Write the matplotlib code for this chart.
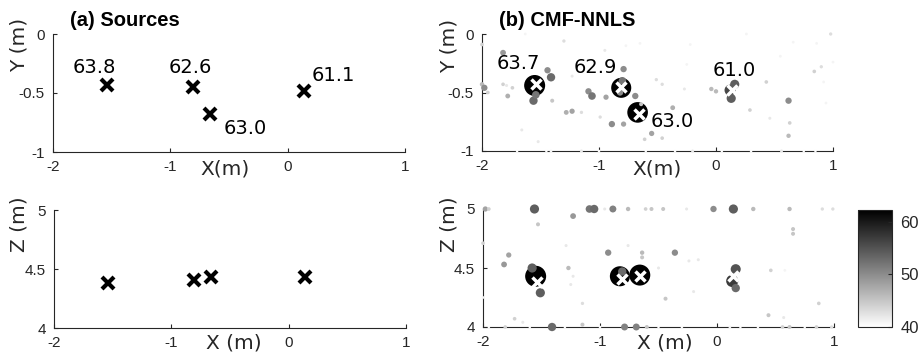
import matplotlib
matplotlib.use("Agg")
import matplotlib.pyplot as plt
import numpy as np

plt.rcParams['axes.unicode_minus'] = False

# ---- data ----
src_x = [-1.54, -0.81, -0.66, 0.14]
src_y = [-0.43, -0.45, -0.68, -0.48]
src_z = [4.38, 4.41, 4.43, 4.43]
true_levels = ["63.8", "62.6", "63.0", "61.1"]
true_lab_x = [-1.65, -0.83, -0.36, 0.39]
true_lab_y = [-0.28, -0.28, -0.80, -0.35]
est_levels = ["63.7", "62.9", "63.0", "61.0"]
est_lab_x = [-1.69, -1.03, -0.37, 0.16]
est_lab_y = [-0.25, -0.29, -0.75, -0.31]

# CMF-NNLS map (X-Y view): x, y, level (dB)
xy_x = [-1.55, -0.81, -0.67, 0.12, 0.16, 0.13,
        -2.0, -1.82, -1.30, -2.0, -1.98, -1.95, -1.82, -1.78, -1.74, -1.56, -1.54,
        -1.44, -1.41, -1.40, -1.66, -1.52, -1.41, -1.28, -1.23, -1.15, -1.15, -1.09,
        -1.06, -1.23, -0.99, -0.94, -0.79, -0.80, -0.82, -0.69, -0.89, -0.79, -0.64,
        -0.55, -0.61, -0.46, -0.95, -0.77, -0.65, -1.63, -0.51, -0.46, -0.37, -0.27,
        -0.20, -0.04, 0.00, 0.29, 0.43, 0.46, 0.62, 0.63, 0.62, 0.55, 0.66, 0.84,
        0.90, 0.86, 0.98, 1.0, 0.94, 0.92, 0.56, -1.79, -0.22, 0.26, -0.25,
        -1.70, -1.45, -1.0, -0.6, -0.35, 0.05, 0.30, 0.75, 0.85]
xy_y = [-0.44, -0.46, -0.67, -0.48, -0.43, -0.55,
        -0.09, -0.16, -0.06, -0.43, -0.46, -0.50, -0.43, -0.53, -0.46, -0.57, -0.52,
        -0.31, -0.37, -0.57, -0.82, -0.92, -1.0, -0.67, -0.66, -0.67, -1.0, -0.49,
        -0.53, -0.36, -0.71, -0.54, -0.30, -0.40, -0.50, -0.53, -0.77, -0.77, -0.60,
        -0.85, -0.90, -0.89, -0.14, -0.10, -0.08, 0.0, -0.39, -0.43, -0.63, -0.47,
        -1.0, -0.47, -0.49, -0.65, -0.41, -0.72, -0.57, -0.76, -0.87, -0.19, -0.07, -0.32,
        -0.28, -0.08, 0.0, -0.24, -0.59, -0.41, -1.0, -0.44, -0.09, 0.0, -0.26,
        -1.0, -1.0, -1.0, -1.0, -1.0, -1.0, -1.0, -1.0, -1.0]
xy_lev = [63.0, 62.5, 62.8, 56, 54, 54,
          44, 49, 43, 46, 50, 44, 44, 47, 44, 53, 52,
          50, 53, 45, 42, 42, 41, 47, 48, 43, 42, 50,
          52, 42, 43, 48, 50, 52, 50, 50, 50, 48, 45,
          48, 44, 44, 42, 41, 41, 41, 43, 43, 47, 42,
          42, 46, 46, 44, 44, 42, 50, 44, 46, 41, 41, 44,
          43, 41, 43, 41, 41, 41, 42, 42, 41, 41, 41,
          40.3, 40.3, 40.3, 40.3, 40.3, 40.3, 40.3, 40.3, 40.3]

# CMF-NNLS map (X-Z view): x, z, level (dB)
xz_x = [-1.55, -0.83, -0.66, -1.58, -1.51, -0.81, 0.16, 0.13, 0.16,
        -1.98, -1.95, -1.56, -1.09, -1.05, -0.96, -0.89, -0.76, -0.61, -0.56, -0.46,
        -0.26, -0.03, 0.14, 0.31, 0.62, 0.90, 0.99, -1.23, -1.53, -2.0, -1.78, -1.82,
        -1.29, -1.27, -1.23, -1.25, -1.15, -1.73, -1.66, -2.0, -1.41, -1.15, -1.81,
        -0.93, -0.64, -0.64, -0.79, -0.69, -0.60, -0.36, -0.24, -0.50, -0.20, -0.44,
        0.46, 0.58, 0.87, 0.44, 0.57, 0.62, 0.56, 0.85, 0.98, 0.11, 0.65, 0.65,
        -0.76, -0.16,
        -1.95, -1.60, -1.30, -1.0, -0.50, -0.30, 0.20, 0.35, 0.75]
xz_z = [4.43, 4.43, 4.44, 4.50, 4.29, 4.47, 4.49, 4.39, 4.33,
        5.0, 5.0, 5.0, 5.0, 5.0, 5.0, 5.0, 5.0, 5.0, 5.0, 5.0,
        5.0, 5.0, 5.0, 5.0, 5.0, 5.0, 5.0, 4.94, 4.87, 4.71, 4.61, 4.53,
        4.69, 4.50, 4.43, 4.36, 4.20, 4.07, 4.04, 4.25, 4.0, 4.02, 4.0,
        4.63, 4.63, 4.59, 4.0, 4.0, 4.0, 4.63, 4.56, 4.50, 4.30, 4.24,
        4.48, 4.48, 4.20, 4.10, 4.08, 4.0, 4.0, 4.0, 4.0, 4.0, 4.83, 4.79,
        4.69, 4.57,
        4.0, 4.0, 4.0, 4.0, 4.0, 4.0, 4.0, 4.0, 4.0]
xz_lev = [63.0, 62.5, 63.0, 54, 54, 53, 55, 57, 53,
          48, 44, 54, 52, 53, 42, 51, 46, 44, 45, 45,
          42, 50, 54, 46, 46, 43, 43, 49, 45, 44, 48, 49,
          42, 46, 42, 42, 43, 44, 42, 41, 53, 45, 44,
          50, 46, 45, 51, 51, 45, 50, 42, 42, 42, 45,
          44, 41, 44, 45, 42, 45, 44, 44, 43, 41, 45, 45,
          42, 42,
          40.3, 40.3, 40.3, 40.3, 40.3, 40.3, 40.3, 40.3, 40.3]

cbar_ticks = [40, 50, 60]
clim = (40, 62.2)

# ---- figure ----
W, H = 921, 352
fig = plt.figure(figsize=(W / 100, H / 100), dpi=100)


def ax_px(l, t, r, b):
    return fig.add_axes([l / W, 1 - b / H, (r - l) / W, (b - t) / H])


tickfont = dict(family='Liberation Sans', size=11)
axcol = '#262626'


def style(ax, ylim, yticks, yticklabels):
    ax.set_xlim(-2, 1)
    ax.set_ylim(*ylim)
    ax.set_xticks([-2, -1, 0, 1])
    ax.set_xticklabels(['-2', '-1', '0', '1'], fontdict=tickfont)
    ax.set_yticks(yticks)
    ax.set_yticklabels(yticklabels, fontdict=tickfont)
    for s in ['top', 'right']:
        ax.spines[s].set_visible(False)
    for s in ['left', 'bottom']:
        ax.spines[s].set_color(axcol)
        ax.spines[s].set_linewidth(0.8)
    ax.tick_params(direction='in', length=3, width=0.8, colors=axcol,
                   labelcolor=axcol)
    ax.tick_params(axis='x', pad=6)
    ax.tick_params(axis='y', pad=6)
    ax.set_facecolor('white')


def sizes(levels):
    d = 21 * 10 ** ((np.asarray(levels) - 63) / 25)  # diameter in px
    return (d * 0.72) ** 2


ax1 = ax_px(53, 34, 405, 152)
ax2 = ax_px(482, 34, 833, 151)
ax3 = ax_px(54, 210, 406, 328)
ax4 = ax_px(483, 209, 834, 327)
cax = ax_px(858, 210, 892, 327)

style(ax1, (-1, 0), [-1, -0.5, 0], ['-1', '-0.5', '0'])
style(ax2, (-1, 0), [-1, -0.5, 0], ['-1', '-0.5', '0'])
style(ax3, (4, 5), [4, 4.5, 5], ['4', '4.5', '5'])
style(ax4, (4, 5), [4, 4.5, 5], ['4', '4.5', '5'])

# (a) sources
ax1.plot(src_x, src_y, 'x', color='black', ms=8, mew=3, clip_on=False)
ax3.plot(src_x, src_z, 'x', color='black', ms=8, mew=3, clip_on=False)
for lx, ly, t in zip(true_lab_x, true_lab_y, true_levels):
    ax1.text(lx, ly, t, ha='center', va='center', fontsize=14,
             family='DejaVu Sans', color='black')

# (b) CMF-NNLS
sc = ax2.scatter(xy_x, xy_y, s=sizes(xy_lev), c=xy_lev, cmap='gray_r',
                 vmin=clim[0], vmax=clim[1], linewidths=0, clip_on=False,
                 zorder=3)
ax4.scatter(xz_x, xz_z, s=sizes(xz_lev), c=xz_lev, cmap='gray_r',
            vmin=clim[0], vmax=clim[1], linewidths=0, clip_on=False, zorder=3)
ax2.plot(src_x, src_y, 'x', color='white', ms=7, mew=2.5, zorder=4)
ax4.plot(src_x, src_z, 'x', color='white', ms=7, mew=2.5, zorder=4)
for lx, ly, t in zip(est_lab_x, est_lab_y, est_levels):
    ax2.text(lx, ly, t, ha='center', va='center', fontsize=14,
             family='DejaVu Sans', color='black', zorder=5)

cb = fig.colorbar(sc, cax=cax)
cb.set_ticks(cbar_ticks)
cb.set_ticklabels([str(t) for t in cbar_ticks])
for lab in cax.get_yticklabels():
    lab.set_family('Liberation Sans')
    lab.set_fontsize(12)
cax.tick_params(direction='in', length=3, width=0.8, colors=axcol,
                labelcolor=axcol, pad=6)
cb.outline.set_edgecolor(axcol)
cb.outline.set_linewidth(0.8)


def ftext(x, y, s, **kw):
    fig.text(x / W, 1 - y / H, s, **kw)


ftext(70, 20, '(a) Sources', ha='left', va='center', fontsize=14.5,
      family='Liberation Sans', weight='bold')
ftext(499, 20, '(b) CMF-NNLS', ha='left', va='center', fontsize=14.5,
      family='Liberation Sans', weight='bold')
lab = dict(family='DejaVu Sans', fontsize=14.5, color=axcol)
ftext(19, 45, 'Y (m)', ha='center', va='center', rotation=90, **lab)
ftext(449, 46, 'Y (m)', ha='center', va='center', rotation=90, **lab)
ftext(19, 224, 'Z (m)', ha='center', va='center', rotation=90, **lab)
ftext(449, 224, 'Z (m)', ha='center', va='center', rotation=90, **lab)
ftext(225, 169, 'X(m)', ha='center', va='center', **lab)
ftext(657, 169, 'X(m)', ha='center', va='center', **lab)
ftext(234, 343, 'X (m)', ha='center', va='center', **lab)
ftext(665, 343, 'X (m)', ha='center', va='center', **lab)

fig.savefig('out.png', dpi=100, facecolor='white')
